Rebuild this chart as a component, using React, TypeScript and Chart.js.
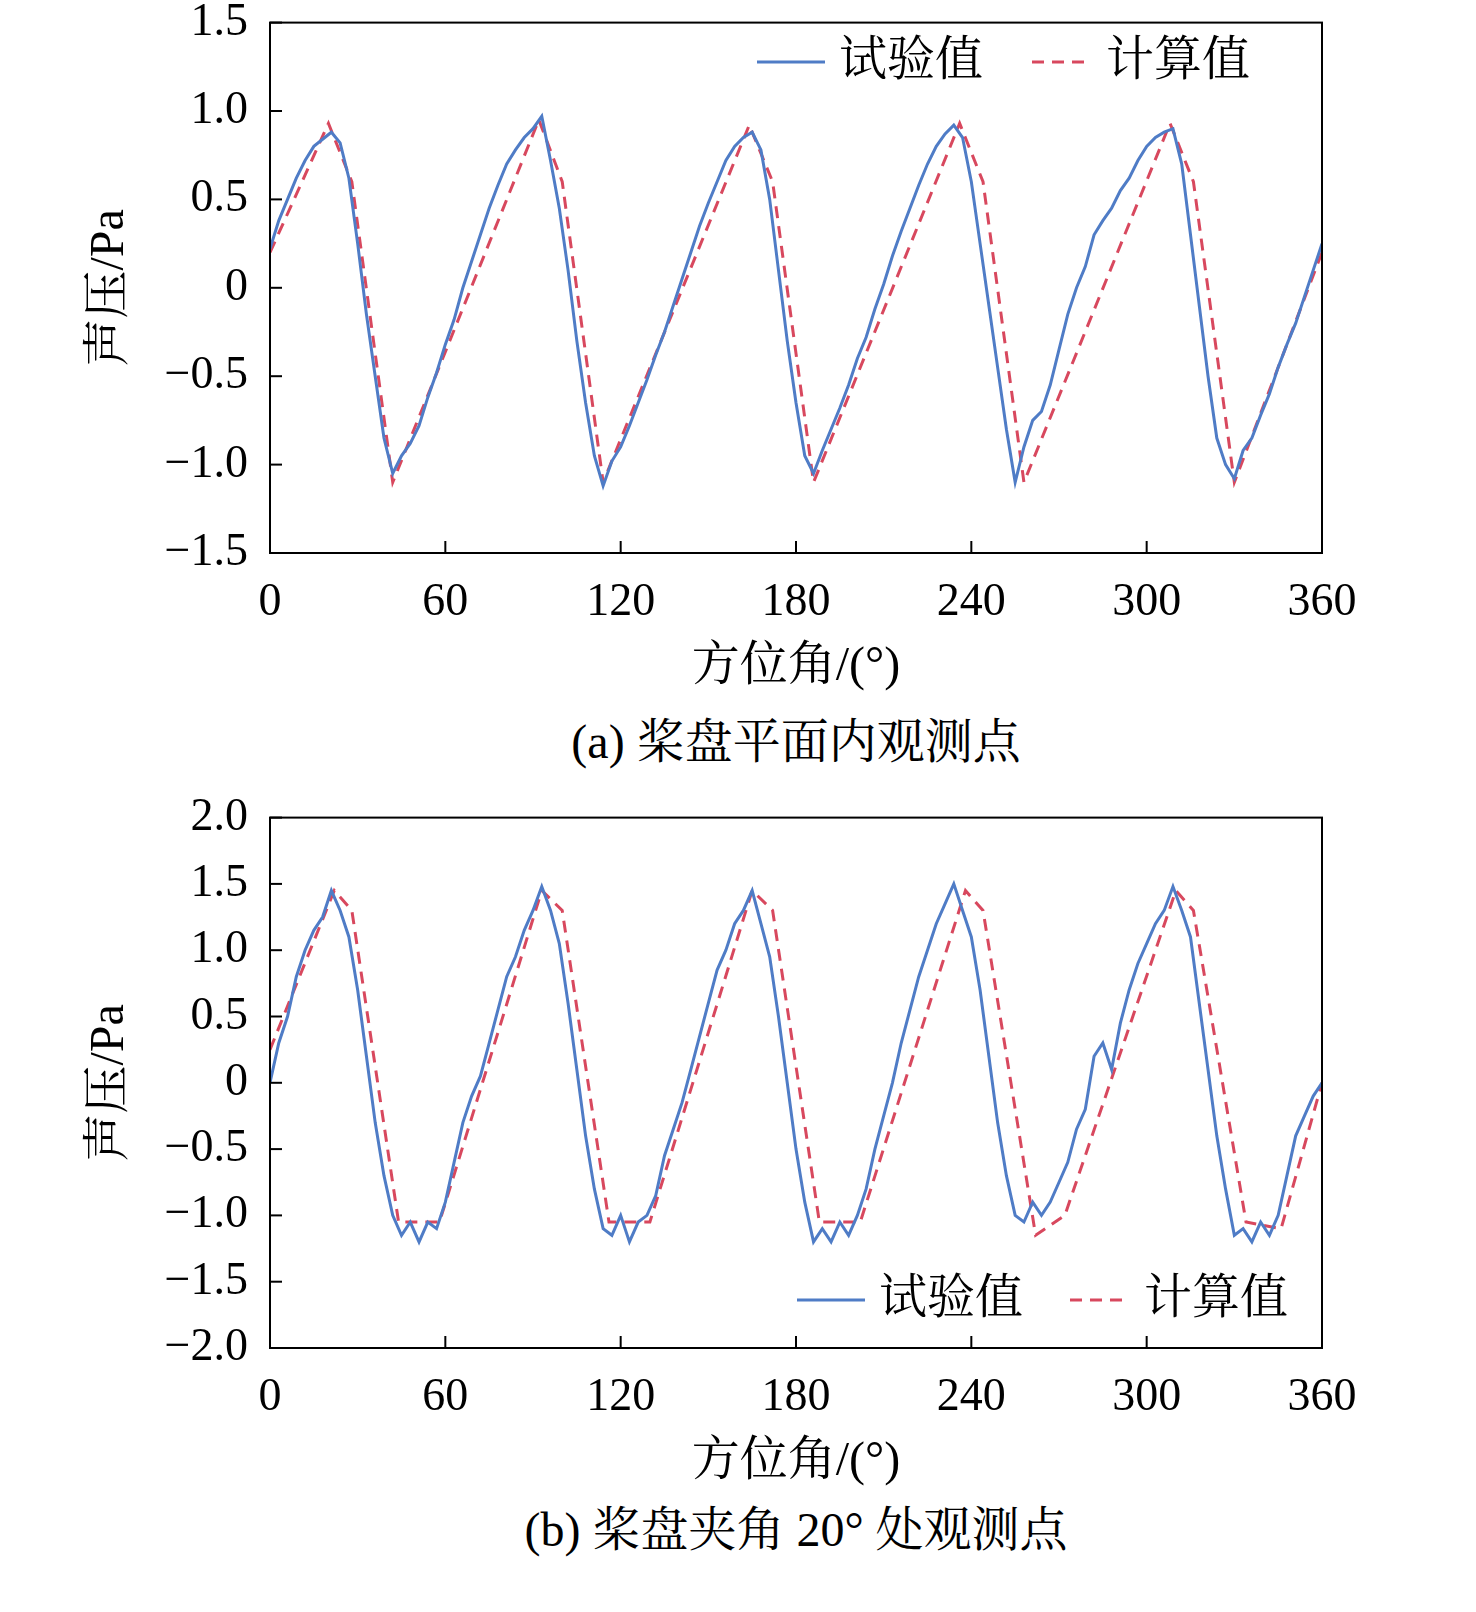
import React, { useEffect, useRef } from "react";
import { Chart, registerables } from "chart.js";
Chart.register(...registerables);

const expAngles: number[] = Array.from({ length: 121 }, (_, i) => i * 3);
const expA: number[] = [
  0.22,0.38,0.5,0.62,0.72,0.8,0.84,0.88,0.82,0.62,0.25,-0.15,-0.5,-0.85,-1.05,-0.95,-0.88,-0.78,-0.62,-0.48,-0.32,-0.18,0.0,0.15,0.3,
  0.45,0.58,0.7,0.78,0.85,0.9,0.97,0.72,0.45,0.1,-0.3,-0.65,-0.95,-1.12,-0.98,-0.9,-0.78,-0.65,-0.52,-0.38,-0.25,-0.1,0.05,0.2,
  0.35,0.48,0.6,0.72,0.8,0.85,0.88,0.78,0.5,0.1,-0.3,-0.65,-0.95,-1.05,-0.92,-0.8,-0.68,-0.55,-0.4,-0.28,-0.12,0.02,0.18,0.32,
  0.45,0.58,0.7,0.8,0.87,0.92,0.85,0.6,0.25,-0.1,-0.45,-0.8,-1.1,-0.9,-0.75,-0.7,-0.55,-0.35,-0.15,0.0,0.12,0.3,0.38,0.45,
  0.55,0.62,0.72,0.8,0.85,0.88,0.9,0.7,0.3,-0.1,-0.5,-0.85,-1.0,-1.08,-0.92,-0.85,-0.72,-0.6,-0.45,-0.32,-0.2,-0.05,0.1,0.25,
];
const calcAAngles: number[] = [0,20,28,42,92,100,114,164,172,186,236,244,258,308,316,330,360];
const calcA: number[] = [0.2,0.93,0.6,-1.1,0.95,0.6,-1.1,0.92,0.6,-1.1,0.93,0.6,-1.1,0.93,0.6,-1.1,0.2];

const expB: number[] = [
  0.0,0.3,0.5,0.8,1.0,1.15,1.25,1.45,1.3,1.1,0.7,0.2,-0.3,-0.7,-1.0,-1.15,-1.05,-1.2,-1.05,-1.1,-0.9,-0.6,-0.3,-0.1,
  0.05,0.3,0.55,0.8,0.95,1.15,1.3,1.48,1.3,1.05,0.6,0.1,-0.4,-0.8,-1.1,-1.15,-1.0,-1.2,-1.05,-1.0,-0.85,-0.55,-0.35,-0.15,
  0.1,0.35,0.6,0.85,1.0,1.2,1.3,1.45,1.2,0.95,0.5,0.0,-0.5,-0.9,-1.2,-1.1,-1.2,-1.05,-1.15,-1.0,-0.8,-0.5,-0.25,0.0,
  0.3,0.55,0.8,1.0,1.2,1.35,1.5,1.3,1.1,0.7,0.2,-0.3,-0.7,-1.0,-1.05,-0.9,-1.0,-0.9,-0.75,-0.6,-0.35,-0.2,0.2,0.3,
  0.1,0.45,0.7,0.9,1.05,1.2,1.3,1.48,1.3,1.1,0.6,0.1,-0.4,-0.8,-1.15,-1.1,-1.2,-1.05,-1.15,-1.0,-0.7,-0.4,-0.25,-0.1,
  0.0,
];
const calcBAngles: number[] = [0,22,28,44,58,93,100,116,130,165,172,188,202,238,244,262,272,310,316,334,346,360];
const calcB: number[] = [0.25,1.45,1.3,-1.05,-1.05,1.45,1.3,-1.05,-1.05,1.45,1.3,-1.05,-1.05,1.45,1.3,-1.15,-1.0,1.45,1.3,-1.05,-1.1,0];

const xTicks: number[] = [0, 60, 120, 180, 240, 300, 360];
const seriesNames: string[] = ["试验值", "计算值"];

const FONT = "'Liberation Serif', 'Noto Serif CJK SC', 'Noto Sans CJK SC', serif";
const EXP_COLOR = "#4f7cc6";
const CALC_COLOR = "#d8485e";
const SHIFT = 19;

function fmt(v: number) {
  if (Math.abs(v) < 1e-9) return "0";
  const s = Math.abs(v).toFixed(1);
  return (v < 0 ? "\u2212" : "") + s;
}

function makePlugin(legend: { x: number; y: number; gap: number }) {
  return {
    id: "custom",
    afterDraw(chart: any) {
      const ctx = chart.ctx;
      const a = chart.chartArea;
      ctx.save();
      ctx.strokeStyle = "#000";
      ctx.lineWidth = 2;
      ctx.strokeRect(a.left, a.top, a.right - a.left, a.bottom - a.top);
      const xs = chart.scales.x, ys = chart.scales.y;
      xs.ticks.forEach((t: any) => {
        const px = xs.getPixelForValue(t.value);
        ctx.beginPath(); ctx.moveTo(px, a.bottom); ctx.lineTo(px, a.bottom - 12); ctx.stroke();
      });
      ys.ticks.forEach((t: any) => {
        const py = ys.getPixelForValue(t.value);
        ctx.beginPath(); ctx.moveTo(a.left, py); ctx.lineTo(a.left + 12, py); ctx.stroke();
      });
      ctx.font = `48px ${FONT}`;
      ctx.textBaseline = "middle";
      ctx.lineWidth = 3;
      let x = legend.x;
      const y = legend.y + SHIFT;
      ctx.strokeStyle = EXP_COLOR; ctx.setLineDash([]);
      ctx.beginPath(); ctx.moveTo(x, y); ctx.lineTo(x + 68, y); ctx.stroke();
      ctx.fillStyle = "#000"; ctx.fillText(seriesNames[0], x + 82, y);
      x += legend.gap;
      ctx.strokeStyle = CALC_COLOR; ctx.setLineDash([12, 8]);
      ctx.beginPath(); ctx.moveTo(x, y); ctx.lineTo(x + 60, y); ctx.stroke();
      ctx.setLineDash([]);
      ctx.fillText(seriesNames[1], x + 74, y);
      ctx.restore();
    },
  };
}

function Panel(props: {
  exp: number[]; calcX: number[]; calc: number[]; min: number; max: number;
  legend: { x: number; y: number; gap: number };
}) {
  const ref = useRef<HTMLCanvasElement>(null);
  useEffect(() => {
    const chart = new Chart(ref.current!, {
      type: "line",
      data: {
        datasets: [
          {
            data: expAngles.map((a, i) => ({ x: a, y: props.exp[i] })),
            borderColor: EXP_COLOR, borderWidth: 3, pointRadius: 0, tension: 0,
          },
          {
            data: props.calcX.map((a, i) => ({ x: a, y: props.calc[i] })),
            borderColor: CALC_COLOR, borderWidth: 3, borderDash: [12, 8], pointRadius: 0, tension: 0,
          },
        ],
      },
      options: {
        animation: false, responsive: false,
        layout: { padding: { top: 4, right: 154, left: 78, bottom: 0 } },
        plugins: { legend: { display: false }, tooltip: { enabled: false } },
        scales: {
          x: {
            type: "linear", min: 0, max: 360,
            afterBuildTicks: (s: any) => { s.ticks = xTicks.map((v) => ({ value: v })); },
            afterFit: (s: any) => { s.height = 147; },
            grid: { display: false }, border: { display: false },
            ticks: { color: "#000", font: { family: FONT, size: 46 }, padding: 14, maxRotation: 0, callback: (v: any) => String(v) },
            title: { display: true, text: "方位角/(°)", color: "#000", font: { family: FONT, size: 48 }, padding: { top: 0 } },
          },
          y: {
            min: props.min, max: props.max,
            afterFit: (s: any) => { s.width = 192; },
            grid: { display: false }, border: { display: false },
            ticks: { stepSize: 0.5, color: "#000", font: { family: FONT, size: 46 }, padding: 14, callback: (v: any) => fmt(Number(v)) },
            title: { display: true, text: "声压/Pa", color: "#000", font: { family: FONT, size: 48 }, padding: { bottom: 0 } },
          },
        },
      },
      plugins: [makePlugin(props.legend)],
    } as any);
    return () => chart.destroy();
  }, []);
  return <canvas ref={ref} width={1476} height={719} style={{ display: "block" }} />;
}

const captionStyle: React.CSSProperties = {
  position: "absolute", left: 270, width: 1052, textAlign: "center",
  fontFamily: FONT, fontSize: 48, color: "#000", lineHeight: "56px",
};

export default function App() {
  useEffect(() => { document.body.style.margin = "0"; }, []);
  return (
    <div style={{ position: "relative", width: 1476, height: 1612, background: "#fff", overflow: "hidden" }}>
      <div style={{ position: "absolute", left: 0, top: -SHIFT }}>
        <Panel exp={expA} calcX={calcAAngles} calc={calcA} min={-1.5} max={1.5} legend={{ x: 757, y: 62, gap: 275 }} />
      </div>
      <div style={{ ...captionStyle, top: 714 }}>(a) 桨盘平面内观测点</div>
      <div style={{ position: "absolute", left: 0, top: 795 - SHIFT }}>
        <Panel exp={expB} calcX={calcBAngles} calc={calcB} min={-2} max={2} legend={{ x: 797, y: 505, gap: 273 }} />
      </div>
      <div style={{ ...captionStyle, top: 1502 }}>(b) 桨盘夹角 20° 处观测点</div>
    </div>
  );
}
